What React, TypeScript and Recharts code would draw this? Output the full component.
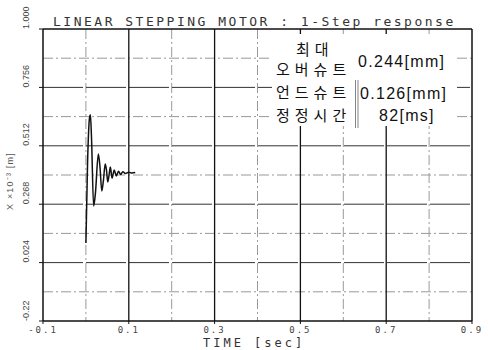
import { LineChart, Line, XAxis, YAxis, CartesianGrid, ReferenceLine, Customized } from 'recharts'

// step response samples (time in sec, displacement x10^-3 m)
const times = [
  0, 0.004, 0.0085, 0.0105, 0.013, 0.018, 0.022, 0.029, 0.033, 0.037, 0.041,
  0.045, 0.048, 0.051, 0.054, 0.057, 0.061, 0.066, 0.071, 0.076, 0.081,
  0.086, 0.092, 0.1, 0.107, 0.115
]
const values = [
  0.106, 0.45, 0.63, 0.642, 0.55, 0.26, 0.31, 0.478, 0.42, 0.323, 0.37,
  0.436, 0.41, 0.361, 0.39, 0.423, 0.377, 0.411, 0.386, 0.406, 0.392,
  0.404, 0.396, 0.402, 0.398, 0.4
]

const xTicks = [-0.1, 0.1, 0.3, 0.5, 0.7, 0.9]
const xGridMajor = [0.1, 0.3, 0.5, 0.7]
const xGridMinor = [0, 0.2, 0.4, 0.6, 0.8]
const yTicks = [1.0, 0.756, 0.512, 0.268, 0.024, -0.22]
const yTickLabels = ['1.000', '0.756', '0.512', '0.268', '0.024', '-0.22']
const yGridMajor = [0.756, 0.512, 0.268, 0.024]
const yGridMinor = [0.878, 0.634, 0.39, 0.146, -0.098]

const titleText = 'LINEAR STEPPING MOTOR : 1-Step response'
const xLabel = 'TIME [sec]'
const yLabel = 'X ×10⁻³ [m]'

const stats = [
  { name: '오버슈트', value: '0.244[mm]' },
  { name: '언드슈트', value: '0.126[mm]' },
  { name: '정정시간', value: '82[ms]' }
]

const data = times.map((t, i) => ({ t, v: values[i] }))

const mono = '"DejaVu Sans Mono", monospace'

const YTick = ({ x, y, payload }: any) => {
  const idx = yTicks.indexOf(payload.value)
  return (
    <text
      transform={`translate(${x - 8},${y}) rotate(-90)`}
      textAnchor="start"
      fontSize={9}
      fontFamily='"Liberation Sans", sans-serif'
      fill="#444"
    >
      {yTickLabels[idx] ?? payload.value}
    </text>
  )
}

const XTick = ({ x, y, payload }: any) => (
  <text
    x={x}
    y={y + 7}
    textAnchor="middle"
    fontSize={9}
    fontFamily={mono}
    letterSpacing={2}
    fill="#444"
  >
    {payload.value}
  </text>
)

const Annotation = () => (
  <g>
    <rect x={272} y={34} width={185} height={92} fill="#fff" />
    <text x={53} y={26} fontSize={13} fontFamily={mono} letterSpacing={2.5} fill="#333">
      {titleText}
    </text>
    <text x={203} y={347} fontSize={12} fontFamily={mono} letterSpacing={3} fill="#333">
      {xLabel}
    </text>
    <text
      transform="translate(13,210) rotate(-90)"
      fontSize={9}
      fontFamily='"Liberation Sans", sans-serif'
      fill="#555"
      letterSpacing={1.2}
    >
      {yLabel}
    </text>
    <line x1={355.5} y1={80} x2={355.5} y2={128} stroke="#666" strokeWidth={0.8} />
    <line x1={358} y1={80} x2={358} y2={128} stroke="#666" strokeWidth={0.8} />
    <g fontFamily='"Noto Sans CJK KR", sans-serif' fontSize={15} fill="#111" letterSpacing={5}>
      <text x={296} y={55}>최대</text>
      {stats.map((s, i) => (
        <text key={s.name} x={276} y={75 + i * 23}>
          {s.name}
        </text>
      ))}
    </g>
    <g fontFamily='"Liberation Sans", sans-serif' fontSize={16} fill="#111" letterSpacing={1.3}>
      <text x={358} y={67}>{stats[0].value}</text>
      <text x={360} y={99}>{stats[1].value}</text>
      <text x={379} y={121}>{stats[2].value}</text>
    </g>
  </g>
)

export default function App() {
  return (
    <div style={{ position: 'absolute', left: 0, top: 0, width: 488, height: 350, background: '#fff' }}>
      <style>{'body{margin:0}'}</style>
      <LineChart
        width={488}
        height={350}
        data={data}
        margin={{ top: 29, right: 16, left: 0, bottom: 0 }}
      >
        <CartesianGrid
          horizontalValues={yGridMinor}
          verticalValues={xGridMinor}
          stroke="#999"
          strokeDasharray="10 3 2 3"
        />
        <CartesianGrid
          horizontalValues={yGridMajor}
          vertical={false}
          stroke="#333"
          strokeDasharray="40 3"
        />
        <CartesianGrid
          verticalValues={xGridMajor}
          horizontal={false}
          stroke="#111"
          strokeWidth={1.3}
        />
        <XAxis
          type="number"
          dataKey="t"
          domain={[-0.1, 0.9]}
          ticks={xTicks}
          tick={<XTick />}
          tickSize={3}
          height={29}
          axisLine={{ stroke: '#111', strokeWidth: 1.5 }}
          tickLine={{ stroke: '#111' }}
          allowDataOverflow
        />
        <YAxis
          type="number"
          domain={[-0.22, 1.0]}
          ticks={yTicks}
          tick={<YTick />}
          tickSize={4}
          width={43}
          axisLine={{ stroke: '#111', strokeWidth: 1.5 }}
          tickLine={{ stroke: '#111' }}
          allowDataOverflow
        />
        <ReferenceLine y={1.0} stroke="#111" strokeWidth={1.5} />
        <ReferenceLine x={0.9} stroke="#111" strokeWidth={1.5} />
        <Customized component={Annotation} />
        <Line
          type="monotone"
          dataKey="v"
          stroke="#111"
          strokeWidth={1.5}
          dot={false}
          isAnimationActive={false}
        />
      </LineChart>
    </div>
  )
}
